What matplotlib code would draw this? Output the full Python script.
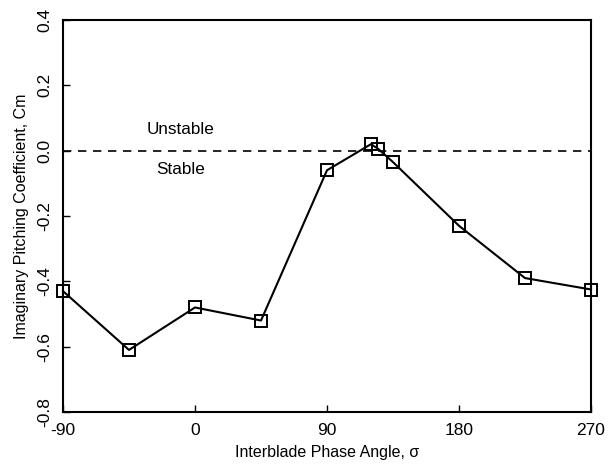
import numpy as np
import matplotlib
matplotlib.use('Agg')
import matplotlib.pyplot as plt

plt.rcParams['font.family'] = ['Liberation Sans', 'DejaVu Sans']

# interblade phase angle (deg) and imaginary pitching moment coefficient
sigma = [-90, -45, 0, 45, 90, 120, 125, 135, 180, 225, 270]
cm_imag = [-0.43, -0.61, -0.48, -0.52, -0.06, 0.02, 0.005, -0.035, -0.23, -0.39, -0.425]

xticks = [-90, 0, 90, 180, 270]
yticks = [-0.8, -0.6, -0.4, -0.2, 0.0, 0.2, 0.4]

fig = plt.figure(figsize=(6.08, 4.68), dpi=100)
ax = fig.add_axes([63/608, 56/468, 528/608, 392/468])

ax.axhline(0.0, color='black', lw=1.2, ls=(0, (5, 4)))
ax.plot(sigma, cm_imag, color='black', lw=1.5, marker='s', ms=8.5,
        mfc='none', mec='black', mew=1.4, clip_on=False, zorder=3)

ax.text(-10, 0.066, 'Unstable', ha='center', va='center', fontsize=12.3)
ax.text(-10, -0.059, 'Stable', ha='center', va='center', fontsize=12.3)

ax.set_xlim(-90, 270)
ax.set_ylim(-0.8, 0.4)
ax.set_xticks(xticks)
ax.set_xticklabels([str(t) for t in xticks])
ax.set_yticks(yticks)
ax.set_yticklabels(['%.1f' % t for t in yticks], rotation=90, va='center')

ax.tick_params(direction='in', length=5, width=1, labelsize=12.5, pad=8,
               top=False, right=False)
for s in ax.spines.values():
    s.set_linewidth(1.5)

ax.set_xlabel('Interblade Phase Angle, σ', fontsize=11.5, labelpad=5)
ax.set_ylabel('Imaginary Pitching Coefficient, Cm', fontsize=11.5, labelpad=6)

plt.savefig('out.png', dpi=100)
